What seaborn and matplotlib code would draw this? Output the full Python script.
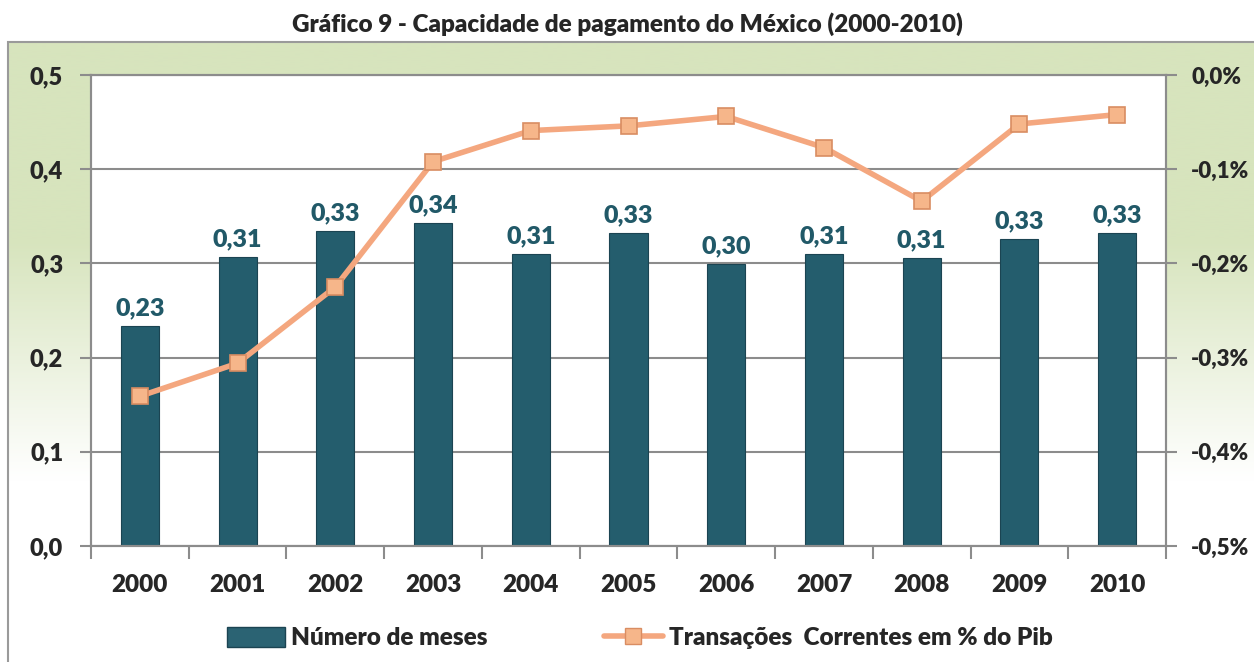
import numpy as np
import pandas as pd
import seaborn as sns
import matplotlib.pyplot as plt
from matplotlib.patches import Patch, Rectangle
from matplotlib.lines import Line2D
from matplotlib.colors import to_rgb

anos = ['2000', '2001', '2002', '2003', '2004', '2005', '2006', '2007', '2008', '2009', '2010']
meses = [0.234, 0.307, 0.334, 0.343, 0.310, 0.332, 0.299, 0.310, 0.306, 0.326, 0.332]
rotulos = ['0,23', '0,31', '0,33', '0,34', '0,31', '0,33', '0,30', '0,31', '0,31', '0,33', '0,33']
transacoes = [-0.341, -0.306, -0.225, -0.092, -0.059, -0.054, -0.044, -0.077, -0.134, -0.052, -0.042]

esq_ticks = [0.0, 0.1, 0.2, 0.3, 0.4, 0.5]
esq_labels = ['0,0', '0,1', '0,2', '0,3', '0,4', '0,5']
dir_ticks = [-0.5, -0.4, -0.3, -0.2, -0.1, 0.0]
dir_labels = ['-0,5%', '-0,4%', '-0,3%', '-0,2%', '-0,1%', '0,0%']

df = pd.DataFrame({'ano': anos, 'meses': meses, 'transacoes': transacoes})

sns.set_theme(style='white')
plt.rcParams['font.family'] = ['Lato', 'DejaVu Sans']
plt.rcParams['font.weight'] = 'heavy'

cor_barra = '#245d6d'
cor_linha = '#f4a77f'
cinza = '#8c8c8c'
peso = 'heavy'

W, H = 1254, 662
fig = plt.figure(figsize=(12.54, 6.62), dpi=100)

# fundo com degradê verde -> branco
bg = fig.add_axes([8 / W, 0, 1 - 8 / W, (H - 42) / H])
bg.set_zorder(0)
verde = np.array(to_rgb('#d7e4bd'))
branco = np.ones(3)
ypix = np.linspace(42, H, 300)
t = np.clip((ypix - 240) / (480 - 240), 0, 1)
grad = verde[None, :] * (1 - t[:, None]) + branco[None, :] * t[:, None]
bg.imshow(grad[:, None, :], aspect='auto', extent=[0, 1, 0, 1])
bg.set_axis_off()
fig.patches.append(Rectangle((8 / W, -0.1), 1.2, 1.1 - 42 / H, transform=fig.transFigure,
                             fill=False, edgecolor='#9a9a9a', lw=1.5))

ax = fig.add_axes([91 / W, (H - 546) / H, (1166 - 91) / W, (546 - 75) / H])
ax.set_zorder(2)
ax.set_facecolor('white')

sns.barplot(data=df, x='ano', y='meses', color=cor_barra, saturation=1, width=0.39,
            edgecolor='#1b4452', linewidth=0.8, ax=ax)
for i, (v, r) in enumerate(zip(meses, rotulos)):
    ax.text(i, v + 0.007, r, ha='center', va='bottom', fontsize=18, fontweight=peso, color='#215968')

ax.set_ylim(0, 0.5)
ax.set_xlim(-0.5, len(anos) - 0.5)
ax.set_yticks(esq_ticks)
ax.set_yticklabels(esq_labels)
ax.set_xticks(range(len(anos)))
ax.set_xticklabels(anos)
ax.set_xticks(np.arange(-0.5, len(anos)), minor=True)
ax.tick_params(axis='x', which='major', length=0, pad=20, labelsize=17.5)
ax.tick_params(axis='x', which='minor', length=9, width=1.5, color=cinza, direction='out', bottom=True)
ax.tick_params(axis='y', length=8, width=1.5, color=cinza, direction='out', pad=12, labelsize=17, left=True)
ax.yaxis.grid(True, color=cinza, lw=1.5)
ax.set_axisbelow(True)
for s in ax.spines.values():
    s.set_color(cinza)
    s.set_linewidth(1.5)
ax.set_xlabel('')
ax.set_ylabel('')

ax2 = ax.twinx()
sns.lineplot(x=np.arange(len(anos)), y=transacoes, ax=ax2, color=cor_linha, lw=4,
             marker='s', markersize=12, markerfacecolor='#f6b68a', markeredgecolor='#d98d62',
             markeredgewidth=1.2)
ax2.set_ylim(-0.5, 0.0)
ax2.set_yticks(dir_ticks)
ax2.set_yticklabels(dir_labels)
ax2.tick_params(axis='y', length=8, width=1.5, color=cinza, direction='out', pad=10, labelsize=16, right=True)
for s in ax2.spines.values():
    s.set_color(cinza)
    s.set_linewidth(1.5)
ax2.set_ylabel('')

fig.text(0.5, 1 - 24 / H, 'Gráfico 9 - Capacidade de pagamento do México (2000-2010)',
         ha='center', va='center', fontsize=17.5, fontweight=peso)

handles = [Patch(facecolor='#2b6373', edgecolor='#1b4452'),
           Line2D([], [], color=cor_linha, lw=4, marker='s', markersize=12,
                  markerfacecolor='#f6b68a', markeredgecolor='#d98d62')]
fig.legend(handles, ['Número de meses', 'Transações  Correntes em % do Pib'],
           loc='center', bbox_to_anchor=(0.51, 24 / H), ncol=2, frameon=False,
           prop={'size': 17.5, 'weight': peso}, handlelength=2.4, handleheight=0.9,
           handletextpad=0.25, columnspacing=4.8)

fig.savefig('out.png', dpi=100)
